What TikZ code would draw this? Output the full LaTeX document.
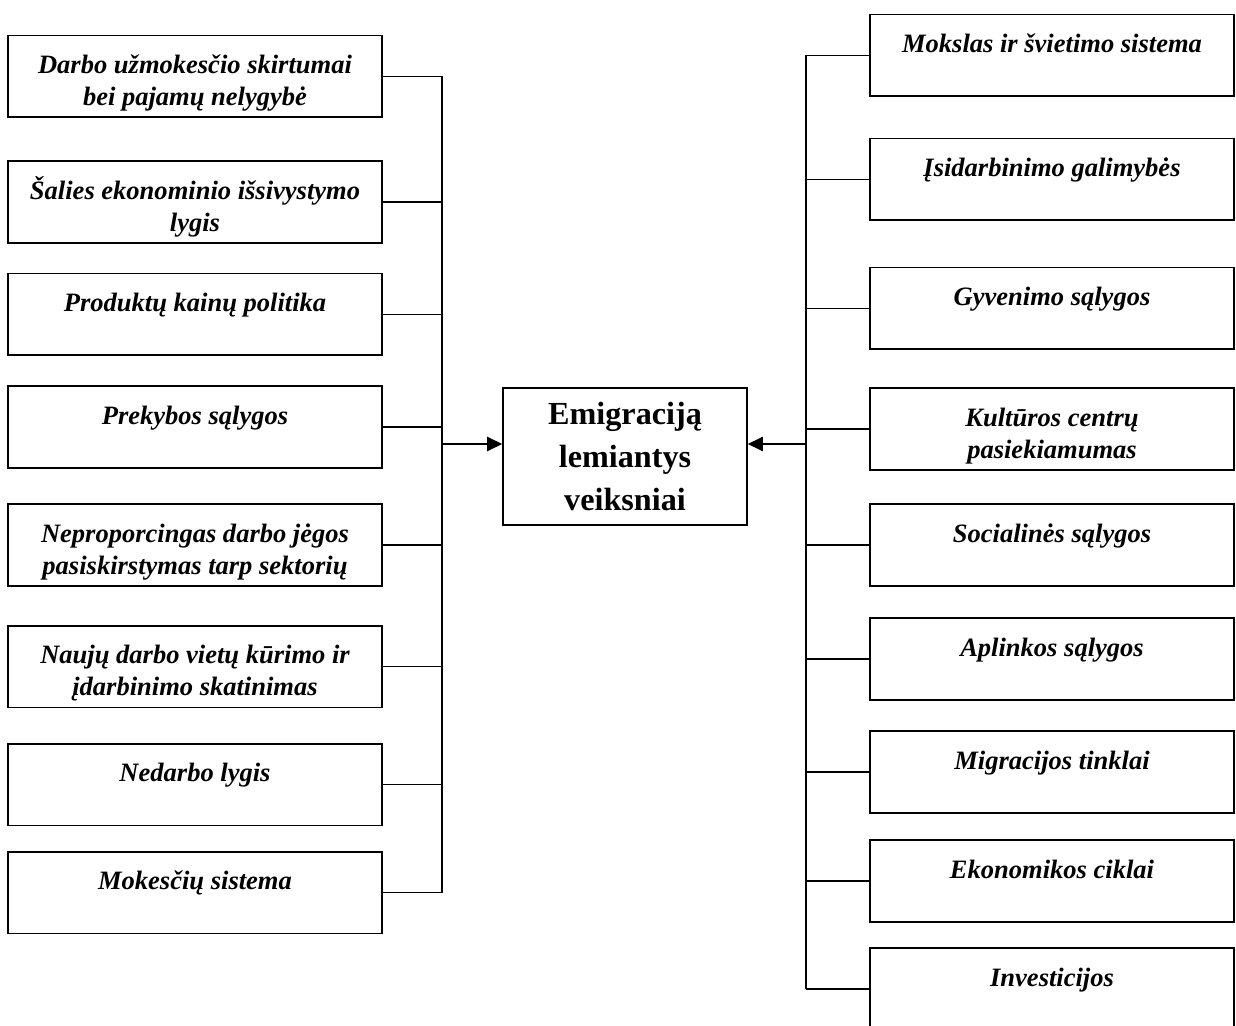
\documentclass[tikz,border=0pt]{standalone}
\usepackage{fontspec}
\setmainfont{Liberation Serif}
\usetikzlibrary{arrows.meta}
\tikzstyle{factor}=[rectangle, fill=white, inner sep=0pt, line width=0.9pt, draw=black, anchor = center]
\tikzstyle{core}=[rectangle, inner sep=0pt, line width=0.9pt, draw=black, minimum width=112pt, minimum height=63pt, align=center, font=\fontsize{14.8}{20}\selectfont\bfseries]
\tikzstyle{link}=[line width=0.9pt]
\newcommand{\lfactor}[1]
{\parbox[c][37.7pt][t]{172pt}{\centering\fontsize{12.2}{14.7}\selectfont\bfseries\itshape\rule{0pt}{17.5pt}#1}}
\newcommand{\rfactor}[1]
{\parbox[c][37.7pt][t]{167.4pt}{\centering\fontsize{12.2}{14.7}\selectfont\bfseries\itshape\rule{0pt}{17.5pt}#1}}
\begin{document}
\begin{tikzpicture}[x=0.46pt, y=-0.46pt]
	\useasboundingbox (0,0) rectangle (1236,1026);

	% left side
	\node[factor](l1) at (195,76.5){\lfactor{Darbo užmokesčio skirtumai\\bei pajamų nelygybė}};
	\node[factor](l2) at (195,202){\lfactor{Šalies ekonominio išsivystymo\\lygis}};
	\node[factor](l3) at (195,314.5){\lfactor{Produktų kainų politika}};
	\node[factor](l4) at (195,427){\lfactor{Prekybos sąlygos}};
	\node[factor](l5) at (195,545){\lfactor{Neproporcingas darbo jėgos\\pasiskirstymas tarp sektorių}};
	\node[factor](l6) at (195,666.5){\lfactor{Naujų darbo vietų kūrimo ir\\įdarbinimo skatinimas}};
	\node[factor](l7) at (195,784.5){\lfactor{Nedarbo lygis}};
	\node[factor](l8) at (195,892.5){\lfactor{Mokesčių sistema}};

	% right side
	\node[factor](r1) at (1052,55.5){\rfactor{Mokslas ir švietimo sistema}};
	\node[factor](r2) at (1052,179.5){\rfactor{Įsidarbinimo galimybės}};
	\node[factor](r3) at (1052,308.5){\rfactor{Gyvenimo sąlygos}};
	\node[factor](r4) at (1052,429){\rfactor{Kultūros centrų\\pasiekiamumas}};
	\node[factor](r5) at (1052,545){\rfactor{Socialinės sąlygos}};
	\node[factor](r6) at (1052,659){\rfactor{Aplinkos sąlygos}};
	\node[factor](r7) at (1052,772){\rfactor{Migracijos tinklai}};
	\node[factor](r8) at (1052,881){\rfactor{Ekonomikos ciklai}};
	\node[factor](r9) at (1052,989){\rfactor{Investicijos}};

	\node[core](core) at (625,456.5){Emigraciją\\lemiantys\\veiksniai};

	\coordinate (lbus) at (442,444);
	\coordinate (rbus) at (806,444);

	\foreach \i in {1,...,8}
		\draw[link] (l\i.east) -- (l\i.east -| lbus);
	\draw[link] (l1.east -| lbus) -- (l8.east -| lbus);
	\foreach \i in {1,...,9}
		\draw[link] (r\i.west) -- (r\i.west -| rbus);
	\draw[link] (r1.west -| rbus) -- (r9.west -| rbus);

	\draw[link, -{Triangle[length=7pt,width=6.5pt]}] (lbus) -- (lbus -| core.west);
	\draw[link, -{Triangle[length=7pt,width=6.5pt]}] (rbus) -- (rbus -| core.east);

\end{tikzpicture}
\end{document}
